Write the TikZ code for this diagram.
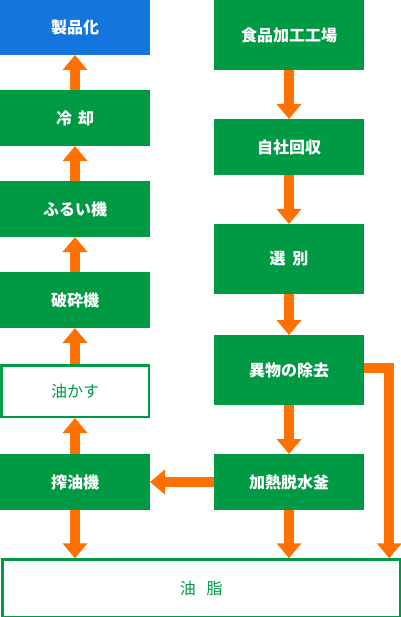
\documentclass[tikz,border=0pt]{standalone}
\usepackage{fontspec}
\setmainfont{Noto Sans CJK JP}
\usepackage{xcolor}
\definecolor{flowGreen}{HTML}{009944}
\definecolor{flowBlue}{HTML}{1476DD}
\definecolor{flowOrange}{HTML}{FF7000}
\usetikzlibrary{arrows.meta,positioning}

\begin{document}
\begin{tikzpicture}[
    box/.style={fill=flowGreen, text=white, minimum width=150pt, inner sep=0pt, outer sep=0pt, font=\fontsize{16pt}{19pt}\selectfont\bfseries, align=center},
    outbox/.style={draw=flowGreen, line width=2.5pt, fill=white, text=flowGreen, minimum width=147.5pt, inner sep=0pt, font=\fontsize{16pt}{19pt}\selectfont},
    fat/.style={flowOrange, line width=10pt, miter limit=10, -{Triangle[width=24pt,length=15pt]}}
  ]
    \useasboundingbox (0,0) rectangle (400pt,-617pt);
    % left column, bottom to top
    \node[box, fill=flowBlue, minimum height=55pt, anchor=north west] (seihin) at (0,0) {製品化};
    \node[box, minimum height=56pt, below=35pt of seihin] (reikyaku) {冷\hspace{6pt}却};
    \node[box, minimum height=56pt, below=35pt of reikyaku] (furui) {ふるい機};
    \node[box, minimum height=56pt, below=35pt of furui] (hasai) {破砕機};
    \node[outbox, minimum height=51.5pt, below=36pt of hasai] (kasu) {油かす};
    \node[box, minimum height=56pt, below=36pt of kasu] (sakuyu) {搾油機};
    % right column, top to bottom
    \node[box, minimum height=70pt, anchor=north west] (kojo) at (214pt,0) {食品加工工場};
    \node[box, minimum height=56pt, below=49pt of kojo] (kaishu) {自社回収};
    \node[box, minimum height=70pt, below=49pt of kaishu] (senbetsu) {選\hspace{7pt}別};
    \node[box, minimum height=70pt, below=41pt of senbetsu] (ibutsu) {異物の除去};
    \node[box, minimum height=56pt, below=49pt of ibutsu] (kama) {加熱脱水釜};
    % oil at the bottom
    \node[outbox, minimum width=397.5pt, minimum height=57.5pt, anchor=north west] (yushi) at (1.25pt,-558.25pt) {油\hspace{11pt}脂};

    \draw[fat] (reikyaku) -- (seihin);
    \draw[fat] (furui) -- (reikyaku);
    \draw[fat] (hasai) -- (furui);
    \draw[fat] (kasu) -- (hasai);
    \draw[fat] (sakuyu) -- (kasu);
    \draw[fat] (kojo) -- (kaishu);
    \draw[fat] (kaishu) -- (senbetsu);
    \draw[fat] (senbetsu) -- (ibutsu);
    \draw[fat] (ibutsu) -- (kama);
    \draw[fat] (kama) -- (sakuyu);
    \draw[fat] (sakuyu.south) -- (sakuyu.south |- yushi.north);
    \draw[fat] (kama.south) -- (kama.south |- yushi.north);
    \draw[fat] ([yshift=2.5pt]ibutsu.east) -| ([xshift=188pt]yushi.north);
\end{tikzpicture}
\end{document}
